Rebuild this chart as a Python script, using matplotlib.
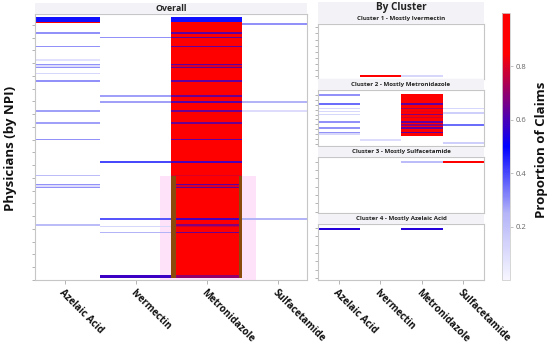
import numpy as np
import matplotlib
matplotlib.use("Agg")
import matplotlib.pyplot as plt
from matplotlib.colors import LinearSegmentedColormap, Normalize
from matplotlib.cm import ScalarMappable
from matplotlib.patches import Rectangle

plt.rcParams['font.family'] = ['Open Sans', 'DejaVu Sans']

# ---------------- data ----------------
drugs = ["Azelaic Acid", "Ivermectin", "Metronidazole", "Sulfacetamide"]
cluster_titles = ["Cluster 1 - Mostly Ivermectin", "Cluster 2 - Mostly Metronidazole",
                  "Cluster 3 - Mostly Sulfacetamide", "Cluster 4 - Mostly Azelaic Acid"]
cbar_ticks = [0.2, 0.4, 0.6, 0.8]
N = None

# Overall panel: physicians (rows) x drugs
overall_n_rows = 174
overall_met_block = (3, 171, 1.0)   # physicians prescribing only metronidazole
overall_rows = [0, 1, 2, 3, 4, 10, 13, 19, 28, 31, 32, 33, 37, 42, 52, 56, 62, 70, 81,
                96, 105, 111, 112, 113, 134, 138, 139, 143, 172, 173]
overall_az = [0.48, 0.48, 0.48, 0.95, N, 0.3, N, 0.3, 0.08, 0.3, 0.1, 0.3, 0.12, 0.3, N, N, 0.28, 0.28, 0.3,
              N, 0.22, 0.3, 0.1, 0.3, N, 0.22, N, N, N, N]
overall_iv = [N, N, N, N, N, N, 0.3, N, N, N, N, N, N, N, 0.28, 0.28, N, N, N,
              0.4, N, N, N, N, 0.38, N, 0.12, 0.25, 0.58, 0.58]
overall_met = [0.48, 0.48, 0.48, N, N, 0.63, 0.63, 0.63, 0.92, 0.63, 0.8, 0.63, 0.88, 0.63, 0.65, 0.62, 0.65, 0.65, 0.63,
               0.6, 0.8, 0.63, 0.8, 0.63, 0.6, 0.68, 0.78, 0.65, 0.7, 0.7]
overall_sulf = [N, N, N, N, 0.3, N, N, N, N, N, N, N, N, N, N, 0.25, 0.1, N, N,
                N, N, N, N, N, 0.25, N, N, N, N, N]

# Cluster panels
cluster_n_rows = 33
c1_rows = [32]
c1_az = [N]
c1_iv = [0.95]
c1_met = [0.12]
c1_sulf = [N]
c1_met_block = None

c2_rows = [0, 6, 9, 11, 12, 13, 15, 18, 20, 22, 25, 26, 30, 32]
c2_az = [0.3, 0.35, 0.12, 0.12, N, 0.12, N, 0.3, N, 0.3, 0.3, 0.12, N, N]
c2_iv = [N, N, N, N, N, N, N, N, N, N, N, N, 0.1, N]
c2_met = [N, 0.63, 0.72, 0.82, N, 0.68, 0.78, 0.63, 0.68, 0.63, 0.63, 0.85, N, N]
c2_sulf = [N, N, 0.12, N, 0.15, N, N, N, 0.35, N, N, N, N, 0.15]
c2_met_block = (0, 27, 0.97)

c3_rows = [0]
c3_az = [N]
c3_iv = [N]
c3_met = [0.22]
c3_sulf = [0.85]
c3_met_block = None

c4_rows = [0]
c4_az = [0.55]
c4_iv = [N]
c4_met = [0.55]
c4_sulf = [N]
c4_met_block = None

# ---------------- style ----------------
cmap = LinearSegmentedColormap.from_list(
    "wbr", [(0.0, "#f7f6ff"), (0.25, "#b4b4f8"), (0.5, "#0000ff"), (0.85, "#ff0000"), (1.0, "#ff0000")])
norm = Normalize(vmin=0, vmax=1)
W, H = 550, 350
fig = plt.figure(figsize=(5.5, 3.5), dpi=100)


def rect(x0, y0, x1, y1):
    return [x0 / W, 1 - y1 / H, (x1 - x0) / W, (y1 - y0) / H]


spine_c = "#c6c6c6"
tick_c = "#a8a8a8"
strip_c = "#f3f3f7"


def style(ax):
    for s in ax.spines.values():
        s.set_color(spine_c)
        s.set_linewidth(0.8)
    ax.tick_params(axis='y', length=2.5, width=0.6, color=tick_c, labelleft=False)
    ax.tick_params(axis='x', length=3, width=0.6, color=tick_c, pad=2)


def strip(x0, y0, x1, y1, text, size):
    fig.patches.append(Rectangle((x0 / W, 1 - y1 / H), (x1 - x0) / W, (y1 - y0) / H,
                                 transform=fig.transFigure, facecolor=strip_c, edgecolor='none', zorder=0))
    fig.text((x0 + x1) / 2 / W, 1 - ((y0 + y1) / 2) / H, text, ha='center', va='center',
             fontsize=size, fontweight='bold', color='#222222')


def xlabels(ax):
    ax.set_xticks(range(len(drugs)))
    ax.set_xticklabels(drugs, rotation=-45, ha='left', va='top', rotation_mode='anchor',
                       fontsize=7, fontweight='bold', color='#111111')


def heat(ax, rows, cols, block):
    # metronidazole-only block first, then individual physician tiles on top
    if block is not None:
        ax.barh(block[0], 1, left=1.5, height=block[1] - block[0] + 1, align='edge',
                color=cmap(norm(block[2])), linewidth=0, zorder=1)
    for j, vals in enumerate(cols):
        rr = [r for r, v in zip(rows, vals) if v is not None]
        vv = [v for v in vals if v is not None]
        if rr:
            ax.barh(rr, 1, left=j - 0.5, height=1, align='edge',
                    color=cmap(norm(np.array(vv))), linewidth=0, zorder=1.2)


# Overall
ax0 = fig.add_axes(rect(35, 14, 307, 280))
heat(ax0, overall_rows, [overall_az, overall_iv, overall_met, overall_sulf], overall_met_block)
ax0.add_patch(Rectangle((1.34, 105.8), 1.35, 70, facecolor="#fde2fa", edgecolor='none', zorder=0.5))
ax0.add_patch(Rectangle((1.5, 105.8), 0.062, 68, facecolor="#8a4a0c", edgecolor='none', zorder=2))
ax0.add_patch(Rectangle((2.453, 105.8), 0.047, 68, facecolor="#8a4a0c", edgecolor='none', zorder=2))
ax0.set_xlim(-0.42, 3.41)
ax0.set_ylim(175.1, -2.2)
ax0.set_yticks(5.13 + 8.5 * np.arange(21))
style(ax0)
xlabels(ax0)
strip(35, 3, 307, 14, "Overall", 6.3)

# Clusters
cluster_data = [
    (c1_rows, [c1_az, c1_iv, c1_met, c1_sulf], c1_met_block),
    (c2_rows, [c2_az, c2_iv, c2_met, c2_sulf], c2_met_block),
    (c3_rows, [c3_az, c3_iv, c3_met, c3_sulf], c3_met_block),
    (c4_rows, [c4_az, c4_iv, c4_met, c4_sulf], c4_met_block),
]
panel_y = [(24, 79), (90, 146), (157, 213), (224, 280)]
tick_sets = [np.linspace(-0.6, 32.5, 9), np.linspace(0.5, 33, 11),
             np.linspace(0.3, 33.6, 7), np.linspace(-0.4, 33.3, 7)]
for k, ((rows, cols, block), (y0, y1)) in enumerate(zip(cluster_data, panel_y)):
    ax = fig.add_axes(rect(318, y0, 484, y1))
    heat(ax, rows, cols, block)
    ax.set_xlim(-0.5, 3.5)
    ax.set_ylim(34.5, -2.87)
    ax.set_yticks(tick_sets[k])
    style(ax)
    if k == 3:
        xlabels(ax)
    else:
        ax.set_xticks([])
    strip(318, y0 - 10.5, 484, y0, cluster_titles[k], 4.4)

strip(318, 2, 484, 13.5, "By Cluster", 7.2)

# Colorbar
cax = fig.add_axes(rect(502, 13, 510, 280))
cb = fig.colorbar(ScalarMappable(norm=norm, cmap=cmap), cax=cax, ticks=cbar_ticks)
cb.outline.set_edgecolor("#cfcfcf")
cb.outline.set_linewidth(0.6)
cax.tick_params(length=2, width=0.5, color=tick_c, labelsize=5.5, labelcolor="#666666", pad=2)
cb.set_ticklabels([f"{t:.1f}" for t in cbar_ticks])

fig.text(541 / W, 1 - 150 / H, "Proportion of Claims", rotation=90, ha='center', va='center',
         fontsize=9.5, fontweight='bold', color='#111111')
fig.text(11 / W, 1 - 148 / H, "Physicians (by NPI)", rotation=90, ha='center', va='center',
         fontsize=9.5, fontweight='bold', color='#111111')

fig.savefig("out.png", dpi=100)
